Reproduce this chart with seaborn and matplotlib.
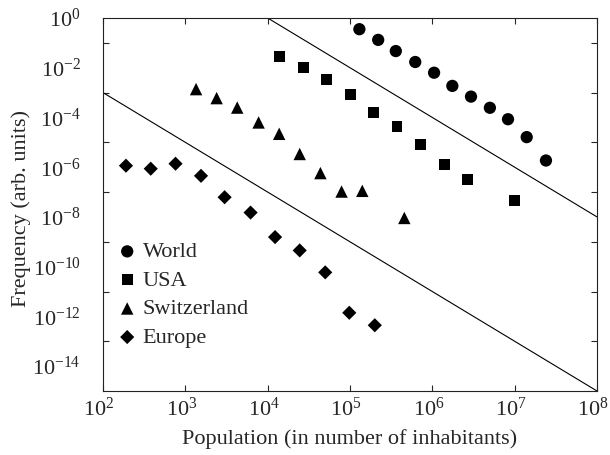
import numpy as np
import pandas as pd
import matplotlib
matplotlib.use("Agg")
import matplotlib.pyplot as plt
from matplotlib.ticker import FixedLocator, NullLocator, FixedFormatter
from matplotlib.transforms import ScaledTranslation
import seaborn as sns

# City-size distributions (population vs. frequency)
world_pop = [1.3e5, 2.2e5, 3.6e5, 6.2e5, 1.05e6, 1.75e6, 2.95e6, 5.0e6, 8.3e6, 1.4e7, 2.4e7]
world_freq = [3.55e-1, 1.32e-1, 4.68e-2, 1.70e-2, 6.3e-3, 1.86e-3, 6.9e-4, 2.45e-4, 8.5e-5, 1.62e-5, 1.86e-6]

usa_pop = [1.38e4, 2.69e4, 5.13e4, 1.02e5, 1.91e5, 3.72e5, 7.24e5, 1.41e6, 2.69e6, 1.0e7]
usa_freq = [2.95e-2, 1.0e-2, 3.47e-3, 8.1e-4, 1.58e-4, 4.27e-5, 7.9e-6, 1.32e-6, 3.3e-7, 4.5e-8]

swiss_pop = [1.35e3, 2.4e3, 4.27e3, 7.76e3, 1.38e4, 2.45e4, 4.37e4, 7.9e4, 1.41e5, 4.57e5]
swiss_freq = [1.38e-3, 6.0e-4, 2.5e-4, 6.3e-5, 2.2e-5, 3.4e-6, 5.8e-7, 1.05e-7, 1.12e-7, 9.1e-9]

europe_pop = [190, 380, 760, 1.55e3, 3.0e3, 6.2e3, 1.23e4, 2.45e4, 5.0e4, 9.8e4, 2.0e5]
europe_freq = [1.15e-6, 8.7e-7, 1.38e-6, 4.5e-7, 6.2e-8, 1.5e-8, 1.55e-9, 4.5e-10, 5.9e-11, 1.4e-12, 4.4e-13]

# Power-law guide lines (slope -2)
guide_upper_x = [1e4, 1e8]
guide_upper_y = [1e0, 1e-8]
guide_lower_x = [1e2, 1e8]
guide_lower_y = [1e-3, 1e-15]

series = ["World", "USA", "Switzerland", "Europe"]
y_label_exps = [0, -2, -4, -6, -8, -10, -12, -14]
x_label_exps = [2, 3, 4, 5, 6, 7, 8]

sns.set_style("ticks")
plt.rcParams["font.family"] = ["Liberation Serif", "DejaVu Serif"]
plt.rcParams["mathtext.fontset"] = "custom"
plt.rcParams["mathtext.rm"] = "Liberation Serif"
plt.rcParams["mathtext.it"] = "Liberation Serif:italic"
plt.rcParams["mathtext.bf"] = "Liberation Serif:bold"

frames = []
for name, xs, ys in [("World", world_pop, world_freq), ("USA", usa_pop, usa_freq),
                     ("Switzerland", swiss_pop, swiss_freq), ("Europe", europe_pop, europe_freq)]:
    frames.append(pd.DataFrame({"Population": xs, "Frequency": ys, "Region": name}))
df = pd.concat(frames, ignore_index=True)

fig = plt.figure(figsize=(6.10, 4.55), dpi=100)
W, H = 610, 455
ax = fig.add_axes([103 / W, 1 - 391 / H, 494 / W, 373 / H])

ax.plot(guide_upper_x, guide_upper_y, color="black", lw=0.8, zorder=1)
ax.plot(guide_lower_x, guide_lower_y, color="black", lw=0.8, zorder=1)

styles = {"World": ("o", 78), "USA": ("s", 62), "Switzerland": ("^", 80), "Europe": ("D", 52)}
for name in series:
    m, s = styles[name]
    sns.scatterplot(data=df[df["Region"] == name], x="Population", y="Frequency",
                    marker=m, s=s, color="black", edgecolor="none", linewidth=0,
                    label=name, ax=ax, zorder=3)

ax.set_xscale("log")
ax.set_yscale("log")
ax.set_xlim(1e2, 1e8)
ax.set_ylim(1e-15, 1e0)

# x ticks at every decade, inward on both bottom and top
ax.xaxis.set_major_locator(FixedLocator([10.0 ** e for e in x_label_exps]))
ax.xaxis.set_major_formatter(FixedFormatter([f"$10^{{{e}}}$" for e in x_label_exps]))
ax.xaxis.set_minor_locator(NullLocator())
ax.tick_params(axis="x", which="major", direction="in", length=4.5, width=0.8,
               top=True, bottom=True, labelsize=16, pad=5)

# y labels on even decades, tick marks on odd decades
ax.yaxis.set_major_locator(FixedLocator([10.0 ** e for e in y_label_exps]))
ax.yaxis.set_major_formatter(FixedFormatter([f"$10^{{{e}}}$" for e in y_label_exps]))
ax.yaxis.set_minor_locator(FixedLocator([10.0 ** e for e in range(-13, 0, 2)]))
ax.tick_params(axis="y", which="major", length=0, labelsize=16, pad=16)
ax.tick_params(axis="y", which="minor", direction="in", length=4, width=0.8,
               left=True, right=True, labelleft=False)

for sp in ax.spines.values():
    sp.set_linewidth(0.8)
    sp.set_color("#222222")

ax.set_xlabel("Population (in number of inhabitants)", fontsize=16)
ax.set_ylabel("Frequency (arb. units)", fontsize=16)
ax.yaxis.set_label_coords((31 - 103) / 494, 0.49)
ax.xaxis.set_label_coords(0.5, -(429 - 391) / 373)

leg = ax.legend(loc="center left", bbox_to_anchor=(0.031, 0.258), frameon=False,
                fontsize=16, handlelength=0.8, handletextpad=0.3, labelspacing=0.36,
                borderaxespad=0, borderpad=0, markerscale=1.0)

# nudge the decade labels slightly left so the last one stays inside the figure
shift = ScaledTranslation(-4 / 100, 0, fig.dpi_scale_trans)
for lbl in ax.get_xticklabels():
    lbl.set_transform(lbl.get_transform() + shift)

fig.savefig("out.png", dpi=100)
